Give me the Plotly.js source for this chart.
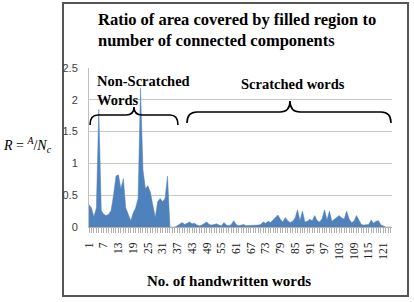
<!DOCTYPE html>
<html>
<head>
<meta charset="utf-8">
<script src="https://cdn.plot.ly/plotly-3.0.1.min.js"></script>
<style>html,body{margin:0;padding:0;background:#fff;}#chart{width:414px;height:302px;}</style>
</head>
<body>
<div id="chart"></div>
<script>
// Ratio R = A / Nc for each handwritten word (words 1-33 non-scratched, 34+ scratched)
const nonScratched = [0.35, 0.30, 0.16, 0.30, 1.85, 0.26, 0.20, 0.18, 0.20, 0.26,
  0.50, 0.80, 0.82, 0.60, 0.76, 0.30, 0.20, 0.10, 0.22, 0.30,
  0.45, 2.18, 0.90, 0.60, 0.65, 0.55, 0.35, 0.15, 0.40, 0.45,
  0.40, 0.45, 0.80];
const scratched = [0, 0, 0, 0.02, 0.05, 0.07, 0.04, 0.06, 0.08, 0.05,
  0.06, 0.03, 0.02, 0.03, 0.05, 0.08, 0.04, 0.03, 0.04, 0.05,
  0.03, 0.02, 0.07, 0.03, 0.02, 0.04, 0.10, 0.04, 0.02, 0.03,
  0.04, 0.02, 0.02, 0.03, 0.02, 0.03, 0.03, 0.04, 0.08, 0.06,
  0.09, 0.07, 0.11, 0.15, 0.19, 0.12, 0.08, 0.15, 0.10, 0.07,
  0.09, 0.14, 0.27, 0.10, 0.25, 0.08, 0.09, 0.12, 0.10, 0.18,
  0.10, 0.08, 0.13, 0.27, 0.11, 0.25, 0.09, 0.12, 0.15, 0.18,
  0.14, 0.12, 0.25, 0.13, 0.07, 0.09, 0.18, 0.10, 0.04, 0.03,
  0.03, 0.04, 0.11, 0.06, 0.09, 0.10, 0.03, 0.01, 0, 0, 0];
const ratio = nonScratched.concat(scratched);
const wordNo = ratio.map((_, i) => i + 1);
const tickWords = [1, 7, 13, 19, 25, 31, 37, 43, 49, 55, 61, 67, 73, 79, 85, 91, 97, 103, 109, 115, 121];
const yTicks = [0, 0.5, 1, 1.5, 2, 2.5];

const titleText = 'Ratio of area covered by filled region to<br>number of connected components';
const xTitle = 'No. of handwritten words';
const leftLabel = 'Non-Scratched<br>Words';
const rightLabel = 'Scratched words';

// plot area in pixels
const PL = 89, PR = 392, PT = 68, PB = 227;
const fx = x => (x - PL) / (PR - PL);
const fy = y => (PB - y) / (PB - PT);

function brace(x0, x1, tip, yEnd, yMid, yTip, r) {
  const p = (x, y) => fx(x).toFixed(4) + ',' + fy(y).toFixed(4);
  return 'M' + p(x0, yEnd) + ' Q' + p(x0, yMid) + ' ' + p(x0 + r, yMid) +
    ' L' + p(tip - r, yMid) + ' Q' + p(tip, yMid) + ' ' + p(tip, yTip) +
    ' Q' + p(tip, yMid) + ' ' + p(tip + r, yMid) +
    ' L' + p(x1 - r, yMid) + ' Q' + p(x1, yMid) + ' ' + p(x1, yEnd);
}

const serif = 'Liberation Serif, Times New Roman, serif';
const sans = 'Liberation Sans, Arial, sans-serif';

const trace = {
  type: 'scatter', mode: 'lines', x: wordNo, y: ratio,
  fill: 'tozeroy', fillcolor: '#4F81BD',
  line: {color: '#4F81BD', width: 0.5},
  hoverinfo: 'x+y'
};

const layout = {
  width: 414, height: 302,
  margin: {l: PL, r: 414 - PR, t: PT, b: 302 - PB, pad: 0},
  paper_bgcolor: '#fff', plot_bgcolor: '#fff',
  showlegend: false,
  xaxis: {
    range: [1, 124.5], tickmode: 'array', tickvals: tickWords, ticktext: tickWords.map(String),
    tickangle: -90, ticks: 'outside', ticklen: 5, tickcolor: '#b0b0b0',
    minor: {tickmode: 'linear', tick0: 1, dtick: 1, ticks: 'outside', ticklen: 5, tickcolor: '#b0b0b0', showgrid: false},
    showline: true, linecolor: '#b0b0b0', linewidth: 1, showgrid: false, zeroline: false,
    ticklabelstandoff: 5,
    tickfont: {family: serif, size: 11.5, color: '#202020'}
  },
  yaxis: {
    range: [0, 2.5], tickmode: 'array', tickvals: yTicks, ticktext: yTicks.map(String),
    showline: true, linecolor: '#c0c0c0', gridcolor: '#c8c8c8', gridwidth: 1, zeroline: false,
    ticks: '', ticklabelstandoff: 8,
    tickfont: {family: sans, size: 11, color: '#404040'}
  },
  annotations: [
    {xref: 'paper', yref: 'paper', x: fx(96), y: fy(8), xanchor: 'left', yanchor: 'top', align: 'left', showarrow: false,
      text: '<b>' + titleText + '</b>', font: {family: serif, size: 16.5, color: '#000'}},
    {xref: 'paper', yref: 'paper', x: fx(229), y: fy(281), xanchor: 'center', yanchor: 'middle', showarrow: false,
      text: '<b>' + xTitle + '</b>', font: {family: serif, size: 15, color: '#000'}},
    {xref: 'paper', yref: 'paper', x: fx(95), y: fy(71), xanchor: 'left', yanchor: 'top', align: 'left', showarrow: false,
      text: '<b>' + leftLabel + '</b>', font: {family: serif, size: 14.5, color: '#000'}},
    {xref: 'paper', yref: 'paper', x: fx(293), y: fy(84), xanchor: 'center', yanchor: 'middle', showarrow: false,
      text: '<b>' + rightLabel + '</b>', font: {family: serif, size: 14.5, color: '#000'}},
    {xref: 'paper', yref: 'paper', x: fx(1), y: fy(145), xanchor: 'left', yanchor: 'middle', showarrow: false,
      text: '<i>R</i> = <sup><i>A</i></sup>/<i>N</i><sub><i>c</i></sub>', font: {family: serif, size: 14, color: '#000'}}
  ],
  shapes: [
    {type: 'path', xref: 'paper', yref: 'paper', path: brace(90, 178, 134, 125, 115, 107, 8), line: {color: '#000', width: 1.6}},
    {type: 'path', xref: 'paper', yref: 'paper', path: brace(187, 391, 290, 123, 112, 101, 10), line: {color: '#000', width: 1.6}},
    {type: 'rect', xref: 'paper', yref: 'paper', x0: fx(63), x1: fx(408), y0: fy(296), y1: fy(3), line: {color: '#555', width: 2}, layer: 'below'}
  ]
};

Plotly.newPlot('chart', [trace], layout, {displayModeBar: false, staticPlot: true});
</script>
</body>
</html>
